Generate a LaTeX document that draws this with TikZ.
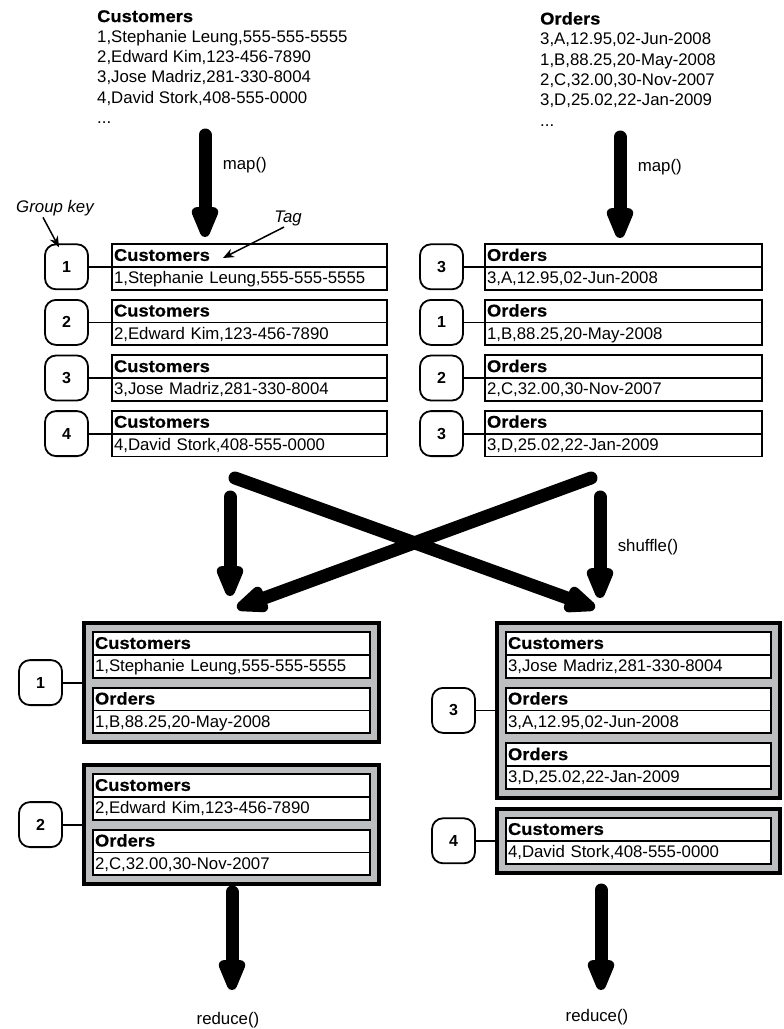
\documentclass[tikz,border=0pt]{standalone}
\usepackage{fontspec}
\setmainfont{Liberation Sans}
\newfontfamily\headfont{Liberation Sans}[FakeStretch=1.08,FakeBold=0.6]
\usetikzlibrary{positioning,shapes.multipart,fit,backgrounds,arrows.meta}
\definecolor{groupgray}{RGB}{188,190,192}
\newcommand{\recstrut}{\rule[-5pt]{0pt}{21pt}}
\newcommand{\rec}[2]{\recstrut{\headfont\bfseries\fontsize{17}{20}\selectfont #1}\nodepart{two}\recstrut #2}

\begin{document}
\begin{tikzpicture}[x=1pt,y=-1pt]
          \tikzset{every node/.style={font=\fontsize{16.8}{20.3}\selectfont}}
          \tikzset{recbox/.style={rectangle split, rectangle split parts=2, draw, line width=1.8pt,
                   inner ysep=0pt, inner xsep=2pt, outer sep=0pt, fill=white, text width=#1, align=left}}
          \tikzset{keybox/.style={draw, line width=1.8pt, rounded corners=11pt, minimum width=43pt,
                   minimum height=45pt, inner sep=0pt, outer sep=0pt, font=\fontsize{16}{16}\selectfont\bfseries}}
          \tikzset{groupbox/.style={draw, line width=4pt, fill=groupgray, inner sep=9pt, outer sep=0pt}}
          \tikzset{bigarrow/.style={line width=13pt, line cap=round, -{Triangle[length=40pt,width=28pt,round]}}}
          \tikzset{thinline/.style={line width=1.8pt}}
          \tikzset{thinarrow/.style={line width=1.5pt, -{Stealth[length=11pt,width=9pt]}}}

          \useasboundingbox (0,0) rectangle (784,1029);

          % sources
          \node[anchor=north west, inner sep=0pt, align=left] (custsrc) at (97,10)
               {{\headfont\bfseries\fontsize{17}{20}\selectfont Customers}\\1,Stephanie Leung,555-555-5555\\
                2,Edward Kim,123-456-7890\\3,Jose Madriz,281-330-8004\\4,David Stork,408-555-0000\\...};
          \node[anchor=north west, inner sep=0pt, align=left] (ordsrc) at (540,12)
               {{\headfont\bfseries\fontsize{17}{20}\selectfont Orders}\\3,A,12.95,02-Jun-2008\\
                1,B,88.25,20-May-2008\\2,C,32.00,30-Nov-2007\\3,D,25.02,22-Jan-2009\\...};

          \coordinate (m1a) at (205,135);
          \coordinate (m1b) at (205,237);
          \coordinate (m2a) at (620,137);
          \coordinate (m2b) at (620,238);
          \draw[bigarrow] (m1a) -- (m1b) node[pos=0.3, right=8pt] {map()};
          \draw[bigarrow] (m2a) -- (m2b) node[pos=0.3, right=8pt] {map()};

          % tagged records
          \node[recbox=271pt, anchor=north west] (c1) at (112,244) {\rec{Customers}{1,Stephanie Leung,555-555-5555}};
          \node[recbox=271pt, below=10pt of c1] (c2) {\rec{Customers}{2,Edward Kim,123-456-7890}};
          \node[recbox=271pt, below=10pt of c2] (c3) {\rec{Customers}{3,Jose Madriz,281-330-8004}};
          \node[recbox=271pt, below=10pt of c3] (c4) {\rec{Customers}{4,David Stork,408-555-0000}};

          \node[recbox=273pt, anchor=north west] (o1) at (485,244) {\rec{Orders}{3,A,12.95,02-Jun-2008}};
          \node[recbox=273pt, below=10pt of o1] (o2) {\rec{Orders}{1,B,88.25,20-May-2008}};
          \node[recbox=273pt, below=10pt of o2] (o3) {\rec{Orders}{2,C,32.00,30-Nov-2007}};
          \node[recbox=273pt, below=10pt of o3] (o4) {\rec{Orders}{3,D,25.02,22-Jan-2009}};

          \node[keybox, left=24pt of c1] (kc1) {1};
          \node[keybox, left=24pt of c2] (kc2) {2};
          \node[keybox, left=24pt of c3] (kc3) {3};
          \node[keybox, left=24pt of c4] (kc4) {4};
          \node[keybox, left=22pt of o1] (ko1) {3};
          \node[keybox, left=22pt of o2] (ko2) {1};
          \node[keybox, left=22pt of o3] (ko3) {2};
          \node[keybox, left=22pt of o4] (ko4) {3};

          \foreach \k/\r in {kc1/c1,kc2/c2,kc3/c3,kc4/c4,ko1/o1,ko2/o2,ko3/o3,ko4/o4}
             \draw[thinline] (\k.east) -- (\k.east -| \r.west);

          % labels
          \node (gklab) at (55,208) {\itshape Group key};
          \node (taglab) at (288,218) {\itshape Tag};
          \coordinate (tagtip) at (223,258);
          \draw[thinarrow] ([xshift=-12pt,yshift=2pt]gklab.south) -- ([xshift=14pt,yshift=-3pt]kc1.north west);
          \draw[thinarrow] ([xshift=-4pt,yshift=2pt]taglab.south) -- (tagtip);

          % shuffle
          \coordinate (s1a) at (230,497);
          \coordinate (s1b) at (230,596);
          \coordinate (s2a) at (600,497);
          \coordinate (s2b) at (600,598);
          \coordinate (x1a) at (235,478);
          \coordinate (x1b) at (595,608);
          \coordinate (x2a) at (591,478);
          \coordinate (x2b) at (237,608);
          \draw[bigarrow] (s1a) -- (s1b);
          \draw[bigarrow] (s2a) -- (s2b) node[midway, right=8pt] {shuffle()};
          \draw[bigarrow] (x1a) -- (x1b);
          \draw[bigarrow] (x2a) -- (x2b);

          % grouped records
          \node[recbox=273pt, anchor=north west] (g1c) at (93,632) {\rec{Customers}{1,Stephanie Leung,555-555-5555}};
          \node[recbox=273pt, below=10pt of g1c] (g1o) {\rec{Orders}{1,B,88.25,20-May-2008}};
          \node[recbox=273pt, anchor=north west] (g2c) at (93,774) {\rec{Customers}{2,Edward Kim,123-456-7890}};
          \node[recbox=273pt, below=10pt of g2c] (g2o) {\rec{Orders}{2,C,32.00,30-Nov-2007}};
          \node[recbox=261pt, anchor=north west] (g3c) at (506,632) {\rec{Customers}{3,Jose Madriz,281-330-8004}};
          \node[recbox=261pt, below=10pt of g3c] (g3o1) {\rec{Orders}{3,A,12.95,02-Jun-2008}};
          \node[recbox=261pt, below=10pt of g3o1] (g3o2) {\rec{Orders}{3,D,25.02,22-Jan-2009}};
          \node[recbox=261pt, anchor=north west] (g4c) at (506,818) {\rec{Customers}{4,David Stork,408-555-0000}};

          \begin{scope}[on background layer]
            \node[groupbox, fit=(g1c)(g1o)] (grp1) {};
            \node[groupbox, fit=(g2c)(g2o)] (grp2) {};
            \node[groupbox, fit=(g3c)(g3o2)] (grp3) {};
            \node[groupbox, fit=(g4c)] (grp4) {};
          \end{scope}

          \node[keybox, left=22pt of grp1] (kg1) {1};
          \node[keybox, left=22pt of grp2] (kg2) {2};
          \node[keybox, left=22pt of grp3] (kg3) {3};
          \node[keybox, left=22pt of grp4] (kg4) {4};
          \foreach \k/\g in {kg1/grp1,kg2/grp2,kg3/grp3,kg4/grp4}
             \draw[thinline] (\k.east) -- (\k.east -| \g.west);

          % reduce
          \node (red1) at (228,1020) {reduce()};
          \node (red2) at (597,1017) {reduce()};
          \coordinate (r1a) at (232,892);
          \coordinate (r1b) at (232,990);
          \coordinate (r2a) at (601,890);
          \coordinate (r2b) at (601,990);
          \draw[bigarrow] (r1a) -- (r1b);
          \draw[bigarrow] (r2a) -- (r2b);
\end{tikzpicture}
\end{document}
